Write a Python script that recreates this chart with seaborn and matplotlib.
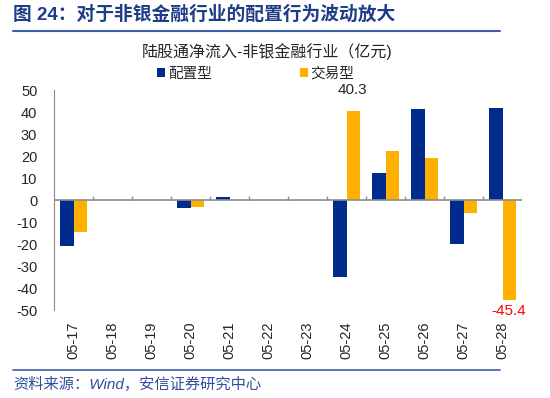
import numpy as np
import pandas as pd
import matplotlib
matplotlib.use("Agg")
import matplotlib.pyplot as plt
import seaborn as sns

# Data (亿元)
dates = ['05-17', '05-18', '05-19', '05-20', '05-21', '05-22',
         '05-23', '05-24', '05-25', '05-26', '05-27', '05-28']
peizhi = [-20.8, 0, 0, -3.8, 1.2, 0, 0, -34.8, 12.1, 41.2, -20.2, 41.7]
jiaoyi = [-14.5, 0, 0, -3.2, 0.2, 0, 0, 40.3, 22.1, 19.0, -5.8, -45.4]
series = ['配置型', '交易型']
yticks = [50, 40, 30, 20, 10, 0, -10, -20, -30, -40, -50]

df = pd.DataFrame({'日期': dates * 2,
                   '类型': [series[0]] * len(dates) + [series[1]] * len(dates),
                   '净流入': peizhi + jiaoyi})

sns.set_style("white")
plt.rcParams['font.family'] = ['Liberation Sans', 'Noto Sans CJK SC', 'DejaVu Sans']
plt.rcParams['axes.unicode_minus'] = False

fig = plt.figure(figsize=(5.5, 3.98), dpi=100)
ax = fig.add_axes([54/550, 1-310/398, (522-54)/550, (310-90)/398])

sns.barplot(data=df, x='日期', y='净流入', hue='类型', hue_order=series,
            palette=['#002B8C', '#FFAF00'], width=0.7, ax=ax, saturation=1,
            linewidth=0, edgecolor='none', gap=0)

ax.set_xlim(-0.5, len(dates) - 0.5)
ax.set_ylim(-50, 50)
ax.set_yticks(yticks)
ax.set_xlabel('')
ax.set_ylabel('')

# zero line with small ticks at category boundaries
ax.axhline(0, color='#8C8C8C', lw=1.2, zorder=1)
ax.vlines(np.arange(0.5, len(dates)), 0, 1.8, color='#8C8C8C', lw=1)

for s in ['top', 'right', 'bottom']:
    ax.spines[s].set_visible(False)
ax.spines['left'].set_color('#8C8C8C')
ax.tick_params(axis='y', direction='in', length=4, color='#8C8C8C',
               labelsize=10.5, pad=12)
ax.tick_params(axis='x', length=0, labelsize=10.5, pad=8, rotation=90)

# value labels
i24 = dates.index('05-24')
i28 = dates.index('05-28')
ax.annotate(f'{jiaoyi[i24]:.1f}', (i24 + 0.15, jiaoyi[i24]), xytext=(0, 10),
            textcoords='offset points', ha='center', va='bottom', fontsize=11)
ax.annotate(f'{jiaoyi[i28]:.1f}', (i28 + 0.15, jiaoyi[i28]), xytext=(0, -3),
            textcoords='offset points', ha='center', va='top', fontsize=11,
            color='#FF0000')

# legend
handles, labels = ax.get_legend_handles_labels()
ax.get_legend().remove()
fig.legend(handles, labels, loc='center', bbox_to_anchor=(256/550, 1-74/398),
           ncol=2, frameon=False, fontsize=10.5, handlelength=0.55,
           handleheight=0.55, handletextpad=0.2, columnspacing=6.0,
           borderpad=0)

fig.text(267/550, 1-52/398, '陆股通净流入-非银金融行业（亿元)', ha='center',
         va='center', fontsize=11.5)

# header & footer
fig.text(13/550, 1-15/398, '图 24：对于非银金融行业的配置行为波动放大', ha='left',
         va='center', fontsize=13.5, fontweight='bold', color='#1F3C88')
fig.add_artist(plt.Line2D([13/550, 500/550], [1-31/398, 1-31/398],
                          color='#3E5FA8', lw=1.5))
fig.add_artist(plt.Line2D([13/550, 500/550], [1-370/398, 1-370/398],
                          color='#3E5FA8', lw=1.2))
fig.text(13/550, 1-384/398, '资料来源：Wind，安信证券研究中心', ha='left',
         va='center', fontsize=11, style='italic', color='#2F4F9F')

fig.savefig('out.png', dpi=100)
